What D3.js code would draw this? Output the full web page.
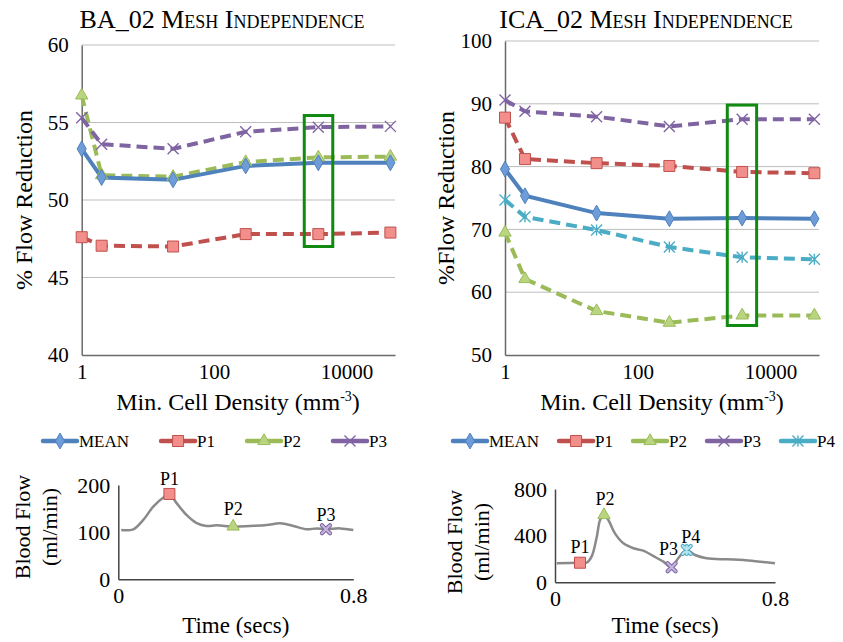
<!DOCTYPE html>
<html>
<head>
<meta charset="utf-8">
<script src="https://cdn.jsdelivr.net/npm/d3@7"></script>
<style>
  html, body { margin: 0; padding: 0; background: #fff; }
  svg text { font-family: "Liberation Serif", "Times New Roman", serif; fill: #000; }
</style>
</head>
<body>
<div id="chart"></div>
<script>
// --- data ---
const density = [1, 2, 24, 300, 3750, 46000];   // min. cell density (mm^-3)
const densityTicks = [1, 100, 10000];

const baNames = ["MEAN", "P1", "P2", "P3"];
const baMean = [53.3, 51.45, 51.3, 52.2, 52.4, 52.4];
const baP1   = [47.6, 47.05, 47.0, 47.8, 47.8, 47.9];
const baP2   = [56.75, 51.6, 51.5, 52.45, 52.75, 52.8];
const baP3   = [55.3, 53.6, 53.3, 54.4, 54.7, 54.75];
const baYTicks = [40, 45, 50, 55, 60];
const baBoxX = [2300, 6200];
const baBoxY = [47.0, 55.45];

const icaNames = ["MEAN", "P1", "P2", "P3", "P4"];
const icaMean = [79.6, 75.35, 72.6, 71.7, 71.8, 71.7];
const icaP1   = [87.8, 81.2, 80.55, 80.1, 79.15, 78.95];
const icaP2   = [69.5, 62.1, 57.0, 55.15, 56.3, 56.3];
const icaP3   = [90.6, 88.8, 87.95, 86.4, 87.55, 87.55];
const icaP4   = [74.7, 72.0, 69.9, 67.2, 65.55, 65.25];
const icaYTicks = [50, 60, 70, 80, 90, 100];
const icaBoxX = [2240, 6200];
const icaBoxY = [54.7, 89.8];

// inflow waveforms (time in s, flow in ml/min)
const baTime = [0.01, 0.051, 0.085, 0.119, 0.159, 0.174, 0.199, 0.233, 0.267, 0.301, 0.335,
                0.391, 0.448, 0.505, 0.551, 0.596, 0.641, 0.675, 0.707, 0.755, 0.8];
const baFlow = [104.6, 106, 126, 154, 176, 181, 161, 136, 119, 113, 114.5,
                111.6, 113, 115, 118.8, 113, 106, 108, 106, 108, 104.6];
const baPtNames = ["P1", "P2", "P3"];
const baPtTime = [0.174, 0.391, 0.707];
const baPtFlow = [181, 112, 106];
const baFlowTicks = [0, 100, 200];

const icaTime = [0.006, 0.091, 0.115, 0.133, 0.152, 0.164, 0.178, 0.194, 0.218, 0.249, 0.285, 0.321,
                 0.357, 0.394, 0.424, 0.448, 0.479, 0.509, 0.551, 0.624, 0.685, 0.745, 0.8];
const icaFlow = [163, 168, 168, 220, 391, 534, 577, 534, 420, 334, 292, 271,
                 226, 177, 129, 206, 277, 234, 206, 197, 191, 177, 163];
const icaPtNames = ["P1", "P2", "P3", "P4"];
const icaPtTime = [0.091, 0.178, 0.424, 0.479];
const icaPtFlow = [168, 577, 129, 277];
const icaFlowTicks = [0, 400, 800];
const timeTicks = [0, 0.8];

// --- styles per series ---
const seriesStyle = {
  MEAN: {color: "#4f81bd", fill: "#6d9cd8", marker: "diamond", dash: null},
  P1:   {color: "#c0504d", fill: "#f28f8b", marker: "square", dash: "11,6"},
  P2:   {color: "#9bbb59", fill: "#b9d57f", marker: "triangle", dash: "11,6"},
  P3:   {color: "#8064a2", fill: "#c3b5de", marker: "x", dash: "11,6"},
  P4:   {color: "#4bacc6", fill: "#b5e3ef", marker: "star", dash: "11,6"}
};

const W = 843, H = 642;
const svg = d3.select("#chart").append("svg").attr("width", W).attr("height", H);

function drawMarker(g, type, x, y, s, big) {
  const st = seriesStyle[type];
  const m = st.marker;
  if (m === "x" || m === "star") {
    const r = s / 2;
    let d = `M${-r},${-r}L${r},${r}M${-r},${r}L${r},${-r}`;
    if (m === "star") d += `M0,${-r}L0,${r}`;
    if (big) {
      g.append("path").attr("transform", `translate(${x},${y})`).attr("d", d)
        .attr("stroke", st.color).attr("stroke-width", 4.2).attr("stroke-linecap", "round").attr("fill", "none");
      g.append("path").attr("transform", `translate(${x},${y})`).attr("d", d)
        .attr("stroke", st.fill).attr("stroke-width", 2.2).attr("stroke-linecap", "round").attr("fill", "none");
    } else {
      g.append("path").attr("transform", `translate(${x},${y})`).attr("d", d)
        .attr("stroke", st.color).attr("stroke-width", 1.4).attr("fill", "none");
    }
    return;
  }
  const sym = {diamond: d3.symbolDiamond, square: d3.symbolSquare, triangle: d3.symbolTriangle}[m];
  const area = {diamond: s * s * 0.6, square: s * s, triangle: s * s * 0.55}[m];
  g.append("path")
    .attr("transform", `translate(${x},${y})`)
    .attr("d", d3.symbol(sym, area)())
    .attr("fill", st.fill)
    .attr("stroke", st.color)
    .attr("stroke-width", 1);
}

function drawMesh(cfg) {
  const g = svg.append("g");
  const x = d3.scaleLog().domain([1, 54000]).range(cfg.xRange);
  const y = d3.scaleLinear().domain(d3.extent(cfg.yTicks)).range(cfg.yRange);

  // gridlines
  g.append("g").selectAll("line").data(cfg.yTicks.slice(1)).join("line")
    .attr("x1", x.range()[0]).attr("x2", x.range()[1])
    .attr("y1", d => y(d)).attr("y2", d => y(d))
    .attr("stroke", "#bdbdbd").attr("stroke-width", 1);

  // axes
  const yAxis = g.append("g").attr("transform", `translate(${x.range()[0]},0)`)
    .call(d3.axisLeft(y).tickValues(cfg.yTicks).tickSize(0).tickPadding(13));
  yAxis.select(".domain").attr("stroke", "#6a6a6a").attr("stroke-width", 1.5);
  yAxis.selectAll("text").attr("font-size", 21).attr("font-family", null);

  const xAxis = g.append("g").attr("transform", `translate(0,${y.range()[0]})`)
    .call(d3.axisBottom(x).tickValues(densityTicks).tickFormat(d3.format("d")).tickSize(0).tickPadding(9));
  xAxis.select(".domain").attr("stroke", "#6a6a6a").attr("stroke-width", 1.5);
  xAxis.selectAll("text").attr("font-size", 21).attr("font-family", null);

  // series lines, mean drawn on top
  const line = d3.line().x((d, i) => x(density[i])).y(d => y(d));
  const order = cfg.names.slice(1).concat(["MEAN"]);
  order.forEach(name => {
    const st = seriesStyle[name];
    g.append("path").datum(cfg.values[name])
      .attr("d", line)
      .attr("fill", "none")
      .attr("stroke", st.color)
      .attr("stroke-width", 4)
      .attr("stroke-dasharray", st.dash);
  });
  order.forEach(name => {
    cfg.values[name].forEach((v, i) => drawMarker(g, name, x(density[i]), y(v), 11, false));
  });

  // highlighted mesh
  g.append("rect")
    .attr("x", x(cfg.boxX[0])).attr("y", y(cfg.boxY[1]))
    .attr("width", x(cfg.boxX[1]) - x(cfg.boxX[0]))
    .attr("height", y(cfg.boxY[0]) - y(cfg.boxY[1]))
    .attr("fill", "none").attr("stroke", "#118a11").attr("stroke-width", 3);

  // titles
  g.append("text").attr("x", cfg.titleX).attr("y", 28).attr("text-anchor", "middle")
    .attr("font-size", 26).style("font-variant", "small-caps").text(cfg.title);
  g.append("text")
    .attr("transform", `translate(${cfg.yTitleX},${(y.range()[0] + y.range()[1]) / 2}) rotate(-90)`)
    .attr("text-anchor", "middle").attr("dy", "0.35em").attr("font-size", 24).text(cfg.yTitle);
  const xt = g.append("text").attr("x", cfg.xTitleX).attr("y", 410).attr("text-anchor", "middle")
    .attr("font-size", 24);
  xt.append("tspan").text("Min. Cell Density (mm");
  xt.append("tspan").attr("font-size", 14).attr("dy", -9).text("-3");
  xt.append("tspan").attr("dy", 9).text(")");

  // legend
  let lx = cfg.legendX;
  const ly = 441;
  cfg.names.forEach(name => {
    const st = seriesStyle[name];
    g.append("line").attr("x1", lx).attr("x2", lx + 34).attr("y1", ly).attr("y2", ly)
      .attr("stroke", st.color).attr("stroke-width", 4.5).attr("stroke-linecap", "round");
    drawMarker(g, name, lx + 17, ly, 11, false);
    const t = g.append("text").attr("x", lx + 36).attr("y", ly + 6).attr("font-size", 17).text(name);
    lx += 36 + t.node().getComputedTextLength() + cfg.legendGap;
  });
}

function drawWave(cfg) {
  const g = svg.append("g");
  const x = d3.scaleLinear().domain([0, 0.8]).range(cfg.xRange);
  const y = d3.scaleLinear().domain(d3.extent(cfg.yTicks)).range(cfg.yRange);

  const yAxis = g.append("g").attr("transform", `translate(${x.range()[0]},0)`)
    .call(d3.axisLeft(y).tickValues(cfg.yTicks).tickSize(0).tickPadding(8));
  yAxis.select(".domain").attr("stroke", "#444").attr("stroke-width", 1.5);
  yAxis.selectAll("text").attr("font-size", 22).attr("font-family", null);

  const xAxis = g.append("g").attr("transform", `translate(0,${y.range()[0]})`)
    .call(d3.axisBottom(x).tickValues(timeTicks).tickFormat(d => d === 0 ? "0" : d).tickSize(0).tickPadding(8));
  xAxis.select(".domain").attr("stroke", "#444").attr("stroke-width", 1.5);
  xAxis.selectAll("text").attr("font-size", 22).attr("font-family", null);

  const line = d3.line().x((d, i) => x(cfg.time[i])).y(d => y(d)).curve(d3.curveCatmullRom);
  g.append("path").datum(cfg.flow).attr("d", line)
    .attr("fill", "none").attr("stroke", "#8a8a8a").attr("stroke-width", 2.5);

  cfg.ptNames.forEach((name, i) => {
    const px = x(cfg.ptTime[i]), py = y(cfg.ptFlow[i]);
    const st = seriesStyle[name];
    drawMarker(g, name, px, py, st.marker === "x" || st.marker === "star" ? 8 : 11, true);
    g.append("text").attr("x", px + cfg.labelDx[i]).attr("y", py + cfg.labelDy[i])
      .attr("text-anchor", "middle").attr("font-size", 18).text(name);
  });

  g.append("text").attr("x", (x.range()[0] + x.range()[1]) / 2).attr("y", 633)
    .attr("text-anchor", "middle").attr("font-size", 23).text("Time (secs)");
  const yt = g.append("text")
    .attr("transform", `translate(${cfg.yTitleX},${cfg.yTitleY}) rotate(-90)`)
    .attr("text-anchor", "middle").attr("font-size", 22);
  yt.append("tspan").attr("x", 0).attr("dy", 0).text("Blood Flow");
  yt.append("tspan").attr("x", 0).attr("dy", 27).text("(ml/min)");
}

drawMesh({
  title: "BA_02 Mesh Independence", titleX: 222,
  yTitle: "% Flow Reduction", yTitleX: 24, xTitleX: 238,
  xRange: [81.7, 395], yRange: [355, 45], yTicks: baYTicks,
  names: baNames, values: {MEAN: baMean, P1: baP1, P2: baP2, P3: baP3},
  boxX: baBoxX, boxY: baBoxY, legendX: 43, legendGap: 32
});
drawMesh({
  title: "ICA_02 Mesh Independence", titleX: 646,
  yTitle: "%Flow Reduction", yTitleX: 446, xTitleX: 662,
  xRange: [505, 819], yRange: [355, 41], yTicks: icaYTicks,
  names: icaNames, values: {MEAN: icaMean, P1: icaP1, P2: icaP2, P3: icaP3, P4: icaP4},
  boxX: icaBoxX, boxY: icaBoxY, legendX: 453, legendGap: 20
});
drawWave({
  xRange: [118.3, 353.3], yRange: [579.3, 485], yTicks: baFlowTicks,
  time: baTime, flow: baFlow, ptNames: baPtNames, ptTime: baPtTime, ptFlow: baPtFlow,
  labelDx: [0, 0, 0], labelDy: [-9, -11, -8],
  yTitleX: 30, yTitleY: 527
});
drawWave({
  xRange: [555, 775], yRange: [582.3, 489], yTicks: icaFlowTicks,
  time: icaTime, flow: icaFlow, ptNames: icaPtNames, ptTime: icaPtTime, ptFlow: icaPtFlow,
  labelDx: [0, 1, -3, 4], labelDy: [-10, -10, -12, -7],
  yTitleX: 462, yTitleY: 542
});
</script>
</body>
</html>
